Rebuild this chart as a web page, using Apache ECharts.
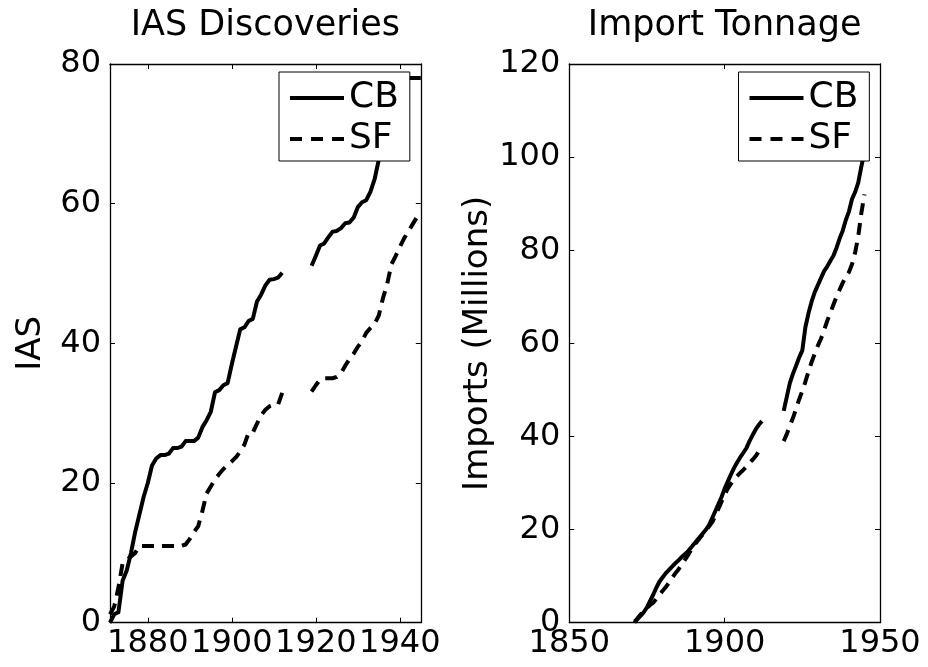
<!DOCTYPE html>
<html>
<head>
<meta charset="utf-8">
<script src="https://cdn.jsdelivr.net/npm/echarts@6/dist/echarts.min.js"></script>
<style>
html,body{margin:0;padding:0;background:#fff;}
#chart{width:928px;height:667px;}
</style>
</head>
<body>
<div id="chart"></div>
<script>
// ---------- data ----------
var years = [1871,1872,1873,1874,1875,1876,1877,1878,1879,1880,
  1881,1882,1883,1884,1885,1886,1887,1888,1889,1890,
  1891,1892,1893,1894,1895,1896,1897,1898,1899,1900,
  1901,1902,1903,1904,1905,1906,1907,1908,1909,1910,
  1911,1912,1913,1914,1915,1916,1917,1918,1919,1920,
  1921,1922,1923,1924,1925,1926,1927,1928,1929,1930,
  1931,1932,1933,1934,1935,1936,1937,1938,1939,1940,
  1941,1942,1943,1944,1945];

// IAS Discoveries (cumulative)
var iasCB = [0,1.2,1.5,6,7.5,10,13,15.5,18,20,
  22.5,23.5,24,24,24.2,25,25,25.2,26,26,
  26,26.5,28,29,30.2,33,33.3,34,34.3,37,
  39.5,42,42.3,43.2,43.5,46,47,48.3,49.1,49.2,
  49.4,50.1,null,null,null,null,null,null,51.1,52.5,
  54,54.3,55.2,56,56.1,56.5,57.2,57.3,58,59.5,
  60.2,60.5,61.7,63.5,66.3,69,72,74,76,77,
  77.5,78,78,78,78];
var iasSF = [1.2,2.3,5,8.5,9,9.5,10,11,11,11,
  11,11,11,11,11,11,11,11,11.2,12,
  13,13.8,16,18.5,19.5,20.5,21.3,22,22.6,23.1,
  23.7,24.5,25.5,27.2,27.2,28.5,29.7,30.5,31,31.2,
  31.2,32.9,null,null,null,null,null,null,33.1,34,
  34.8,35,35,35,35.2,35.7,36.8,37.7,38.5,39.5,
  40.3,41.5,42.2,42.8,44,46.5,48.5,51.3,52.5,53.8,
  55,56,57,58,58.5];

// Import Tonnage (millions)
var impCB = [0.3,0.8,1.5,2.3,3.3,4.7,6,7.5,8.8,9.7,
  10.6,11.3,12,12.7,13.3,14,14.6,15.2,16,16.8,
  17.6,18.4,19.2,20,21,22.5,24,25.5,27,28.8,
  30.3,31.8,33.2,34.4,35.5,36.5,37.5,39,40.3,41.5,
  42.5,43.3,null,null,null,null,null,null,45.5,48.5,
  51.5,53.5,55.2,57,58.5,63.5,66.5,69,71,72.5,
  74,75.5,76.5,77.7,78.8,80.5,82.5,84.2,86.5,88.3,
  91,92.5,94.5,98,101];
var impSF = [0,1,1.8,2.5,3.2,3.8,4.3,5.1,6,6.8,
  7.6,8.5,9.5,10.5,11.3,12.3,13.3,14.3,15.4,16.5,
  17.3,18.2,19,19.8,20.7,21.6,23,24.5,26,27.5,
  28.8,29.8,30.8,31.5,32.2,32.8,33.5,34.3,35,35.8,
  36.8,37,null,null,null,null,null,null,39,40.5,
  42.3,44,46,48,49.8,51.8,54,56,57.8,59.5,
  61,62.8,64.8,66.5,68.3,70,71.5,73,74.3,75.3,
  77,79.5,83,88,92];

var seriesNames = ['CB', 'SF'];
var leftXTicks = [1880, 1900, 1920, 1940];
var rightXTicks = [1850, 1900, 1950];
var leftYTicks = [0, 20, 40, 60, 80];
var rightYTicks = [0, 20, 40, 60, 80, 100, 120];

// ---------- helpers ----------
function pairs(xs, ys) {
  var out = [];
  for (var i = 0; i < xs.length; i++) out.push([xs[i], ys[i]]);
  return out;
}
var FONT = 'DejaVu Sans';
var TICK_FS = 32;
var fmt = function (v) { return String(v); };

function xAxes(gi, min, max, ticks, title) {
  return [
    { type: 'value', gridIndex: gi, position: 'bottom', min: min, max: max,
      axisLine: { show: true, onZero: false, lineStyle: { color: '#000', width: 1.3 } },
      axisTick: { show: true, inside: true, length: 5, customValues: ticks, lineStyle: { color: '#000', width: 1 } },
      axisLabel: { show: true, customValues: ticks, formatter: fmt, color: '#000', fontFamily: FONT, fontSize: TICK_FS, margin: 5 },
      splitLine: { show: false } },
    { type: 'value', gridIndex: gi, position: 'top', min: min, max: max,
      name: title, nameLocation: 'middle', nameGap: 21,
      nameTextStyle: { color: '#000', fontFamily: FONT, fontSize: 35 },
      axisLine: { show: true, onZero: false, lineStyle: { color: '#000', width: 1.3 } },
      axisTick: { show: true, inside: true, length: 5, customValues: ticks, lineStyle: { color: '#000', width: 1 } },
      axisLabel: { show: false },
      splitLine: { show: false } }
  ];
}
function yAxes(gi, max, ticks, name, gap) {
  return [
    { type: 'value', gridIndex: gi, position: 'left', min: 0, max: max, interval: 20,
      name: name, nameLocation: 'middle', nameGap: gap, nameRotate: 90,
      nameTextStyle: { color: '#000', fontFamily: FONT, fontSize: 34 },
      axisLine: { show: true, onZero: false, lineStyle: { color: '#000', width: 1.3 } },
      axisTick: { show: true, inside: true, length: 5, customValues: ticks, lineStyle: { color: '#000', width: 1 } },
      axisLabel: { show: true, customValues: ticks, formatter: fmt, color: '#000', fontFamily: FONT, fontSize: TICK_FS, margin: 9 },
      splitLine: { show: false } },
    { type: 'value', gridIndex: gi, position: 'right', min: 0, max: max, interval: 20,
      axisLine: { show: true, onZero: false, lineStyle: { color: '#000', width: 1.3 } },
      axisTick: { show: true, inside: true, length: 5, customValues: ticks, lineStyle: { color: '#000', width: 1 } },
      axisLabel: { show: false },
      splitLine: { show: false } }
  ];
}
function lineSeries(name, xi, yi, data, dashed) {
  return {
    type: 'line', name: name, xAxisIndex: xi, yAxisIndex: yi,
    data: data, showSymbol: false, symbol: 'none', connectNulls: false,
    color: '#000', animation: false, z: 2,
    lineStyle: { color: '#000', width: 4, type: dashed ? [12, 8] : 'solid', cap: 'butt', join: 'round' }
  };
}
var solidIcon = 'path://M0,0h54v4h-54z';
var dashIcon = 'path://M0,0h12v4h-12zM21,0h12v4h-12zM42,0h12v4h-12z';
function legendAt(left, top) {
  return {
    left: left, top: top, orient: 'vertical',
    backgroundColor: '#fff', borderColor: '#000', borderWidth: 1, borderRadius: 0,
    padding: [8, 11, 4, 11], itemGap: 5, itemWidth: 54, itemHeight: 4,
    selectedMode: false, z: 10,
    itemStyle: { color: '#000', borderWidth: 0 },
    textStyle: { color: '#000', fontFamily: FONT, fontSize: 36 },
    data: [{ name: seriesNames[0], icon: solidIcon }, { name: seriesNames[1], icon: dashIcon }]
  };
}

var option = {
  animation: false,
  backgroundColor: '#fff',
  grid: [
    { left: 110, top: 64, width: 310.8, height: 558.7, containLabel: false, outerBoundsMode: 'none' },
    { left: 569.3, top: 64, width: 310.7, height: 558.7, containLabel: false, outerBoundsMode: 'none' }
  ],
  xAxis: xAxes(0, 1871, 1945, leftXTicks, 'IAS Discoveries').concat(xAxes(1, 1850, 1950, rightXTicks, 'Import Tonnage')),
  yAxis: yAxes(0, 80, leftYTicks, 'IAS', 62).concat(yAxes(1, 120, rightYTicks, 'Imports (Millions)', 72)),
  legend: [legendAt(279, 72), legendAt(738.5, 72)],
  series: [
    lineSeries(seriesNames[0], 0, 0, pairs(years, iasCB), false),
    lineSeries(seriesNames[1], 0, 0, pairs(years, iasSF), true),
    lineSeries(seriesNames[0], 2, 2, pairs(years, impCB), false),
    lineSeries(seriesNames[1], 2, 2, pairs(years, impSF), true)
  ]
};
var chart = echarts.init(document.getElementById('chart'), null, { renderer: 'canvas' });
chart.setOption(option);
</script>
</body>
</html>
